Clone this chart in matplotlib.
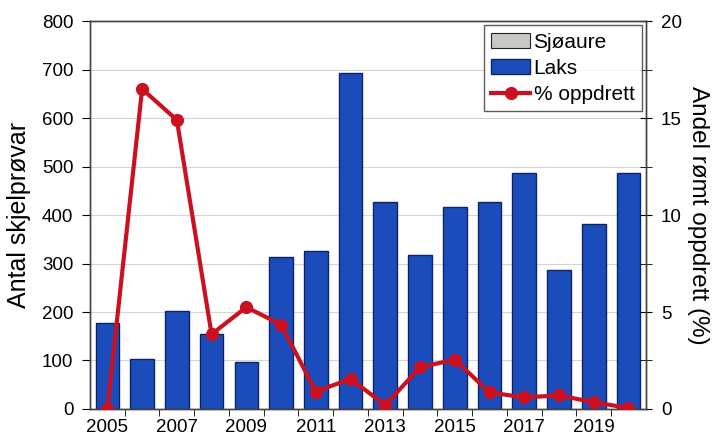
import numpy as np
import matplotlib
matplotlib.use("Agg")
import matplotlib.pyplot as plt
from matplotlib.ticker import MultipleLocator, FixedLocator

plt.rcParams['font.family'] = ['Liberation Sans', 'DejaVu Sans']

years = [2005, 2006, 2007, 2008, 2009, 2010, 2011, 2012,
         2013, 2014, 2015, 2016, 2017, 2018, 2019, 2020]
sjoaure = [0, 0, 0, 0, 0, 0, 0, 0, 0, 0, 0, 0, 0, 0, 0, 0]
laks = [178, 103, 203, 155, 97, 313, 326, 693,
        426, 318, 416, 426, 487, 287, 381, 487]
oppdrett = [0.0, 16.5, 14.9, 3.85, 5.25, 4.35, 0.9, 1.55,
            0.2, 2.15, 2.55, 0.85, 0.6, 0.7, 0.35, 0.05]
tick_years = [y for y in years if y % 2 == 1]

x = np.arange(len(years))

fig = plt.figure(figsize=(7.2, 4.41), dpi=100)
ax = fig.add_axes([0.125, 0.0726, 0.772, 0.8796])
ax2 = ax.twinx()

b1 = ax.bar(x, sjoaure, width=0.68, color='#c8c8c4', edgecolor='#222222',
            linewidth=0.8, label='Sjøaure', zorder=2)
b2 = ax.bar(x, laks, width=0.68, bottom=sjoaure, color='#1b4cbc',
            edgecolor='#0c2466', linewidth=1.0, label='Laks', zorder=2)

ax.set_xlim(-0.5, len(years) - 0.5)
ax.set_ylim(0, 800)
ax.yaxis.set_major_locator(MultipleLocator(100))
ax.grid(axis='y', color='#d4d4d4', linewidth=0.8, zorder=0)
ax.set_axisbelow(True)

ax.set_xticks([years.index(y) for y in tick_years])
ax.set_xticklabels([str(y) for y in tick_years])
ax.xaxis.set_minor_locator(FixedLocator(x[:-1] + 0.5))
ax.tick_params(axis='x', which='major', length=0, pad=7, labelsize=13.5)
ax.tick_params(axis='x', which='minor', length=5, direction='out')
ax.tick_params(axis='y', length=6, direction='out', pad=6, labelsize=13.5)
ax.set_ylabel('Antal skjelprøvar', fontsize=18, labelpad=8)

line, = ax2.plot(x, oppdrett, color='#cc1020', linewidth=3, marker='o',
                 markersize=8.5, label='% oppdrett', zorder=3)
ax2.set_ylim(0, 20)
ax2.yaxis.set_major_locator(MultipleLocator(5))
ax2.yaxis.set_minor_locator(MultipleLocator(2.5))
ax2.tick_params(axis='y', which='major', length=8, direction='inout', pad=7,
                labelsize=13.5)
ax2.tick_params(axis='y', which='minor', length=8, direction='inout')
ax2.set_ylabel('Andel rømt oppdrett (%)', fontsize=17.5, rotation=270,
               labelpad=19)

for a in (ax, ax2):
    for s in a.spines.values():
        s.set_color('#444444')
        s.set_linewidth(1.0)

ax.set_zorder(ax2.get_zorder() - 1)
ax2.patch.set_visible(False)
ax.patch.set_visible(True)

leg = ax2.legend([b1, b2, line], ['Sjøaure', 'Laks', '% oppdrett'],
                 loc='upper right', fontsize=15, frameon=True, fancybox=False,
                 edgecolor='#333333', handlelength=1.9, handletextpad=0.15,
                 labelspacing=0.35, borderpad=0.35, borderaxespad=0.2)
leg.get_frame().set_linewidth(1.0)

fig.savefig('out.png', dpi=100)
